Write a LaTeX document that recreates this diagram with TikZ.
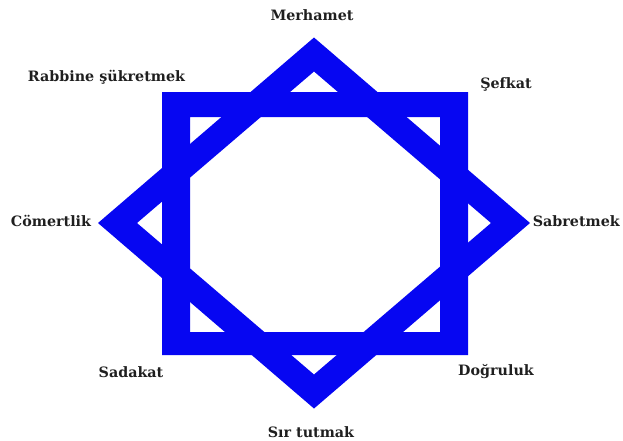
\documentclass[tikz,border=0pt]{standalone}
\usepackage{fontspec}
\setmainfont{DejaVu Serif}
\definecolor{starblue}{RGB}{6,6,242}
\tikzset{
  lbl/.style={anchor=base, inner sep=0pt, font=\bfseries\fontsize{14.3}{17}\selectfont, text=black!88},
  band/.style={fill=starblue, even odd rule, draw=none}
}
\begin{document}
\begin{tikzpicture}[x=1pt,y=-1pt]
\useasboundingbox (0,0) rectangle (623,440);
% axis-aligned square band
\path[band] (162,92) rectangle (468,355) (190,117) rectangle (440,332);
% rotated square (diamond) band
\path[band] (314,37.5) -- (530,223) -- (314,408.5) -- (98,223) -- cycle
            (314,71.5) -- (491,223) -- (314,374.5) -- (137,223) -- cycle;
% labels
\node[lbl] (merhamet) at (312,20) {Merhamet};
\node[lbl] (rabbine) at (106.5,81) {Rabbine şükretmek};
\node[lbl] (sefkat) at (506,88) {Şefkat};
\node[lbl] (comertlik) at (51,226) {Cömertlik};
\node[lbl, anchor=base east] (sabretmek) at (620,226) {Sabretmek};
\node[lbl] (sadakat) at (131,377) {Sadakat};
\node[lbl] (dogruluk) at (496,375) {Doğruluk};
\node[lbl] (sirtutmak) at (311,437) {Sır tutmak};
\end{tikzpicture}
\end{document}
